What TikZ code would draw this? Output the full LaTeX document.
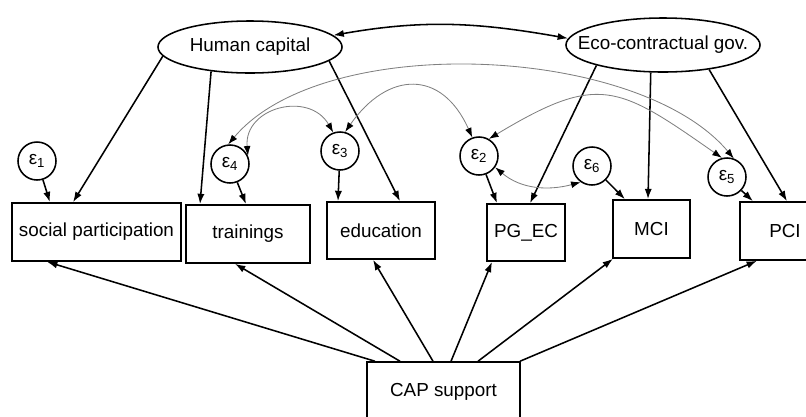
\documentclass[tikz,border=0pt]{standalone}
\usepackage{fontspec}
\setmainfont{Liberation Sans}
\usepackage{tikz}
\usetikzlibrary{arrows.meta,shapes.geometric}

\begin{document}
\begin{tikzpicture}[x=0.025cm, y=-0.025cm, font=\fontsize{13.4}{16}\selectfont,
		lat/.style={draw, ellipse, line width=1.1pt, inner sep=0pt},
		obs/.style={draw, rectangle, line width=1.1pt, inner sep=0pt, minimum height=1.45cm},
		err/.style={draw, circle, line width=1.1pt, inner sep=0pt, minimum size=0.95cm},
		reg/.style={line width=1.1pt, -{Latex[length=0.26cm, width=0.18cm]}},
		bireg/.style={line width=1.1pt, {Latex[length=0.26cm, width=0.18cm]}-{Latex[length=0.26cm, width=0.18cm]}},
		cov/.style={gray, line width=0.6pt, {Latex[length=0.24cm, width=0.17cm, black]}-{Latex[length=0.24cm, width=0.17cm, black]}}]
		\useasboundingbox (0, 0) rectangle (806, 416);

		\node[lat, minimum width=4.6cm, minimum height=1.3cm, label=center:{Human capital}] (hc) at (250, 47) {};
		\node[lat, minimum width=4.85cm, minimum height=1.35cm, label=center:{Eco-contractual gov.}] (eco) at (663, 45) {};

		\node[obs, minimum width=4.225cm] (sp) at (96.5, 232) {social participation};
		\node[obs, minimum width=3.1cm] (tr) at (248, 234) {trainings};
		\node[obs, minimum width=2.7cm, minimum height=1.425cm] (ed) at (381, 230.5) {education};
		\node[obs, minimum width=1.95cm, minimum height=1.425cm] (pg) at (526, 232.5) {PG\_EC};
		\node[obs, minimum width=1.925cm] (mci) at (651.5, 229) {MCI};
		\node[obs, minimum width=2.25cm] (pci) at (785, 231) {PCI};
		\node[obs, minimum width=3.825cm, minimum height=1.5cm] (cap) at (443.5, 392) {CAP support};

		\node[err] (e1) at (37, 161) {ε\textsubscript{1}};
		\node[err] (e4) at (230, 164) {ε\textsubscript{4}};
		\node[err] (e3) at (340, 151) {ε\textsubscript{3}};
		\node[err] (e2) at (479, 156) {ε\textsubscript{2}};
		\node[err] (e6) at (592, 166) {ε\textsubscript{6}};
		\node[err] (e5) at (727, 177) {ε\textsubscript{5}};

		\draw[bireg] (hc.8) to[out=10, in=170] (eco.176);

		\draw[reg] (hc.186) -- ([xshift=-0.5875cm]sp.north);
		\draw[reg] (hc.212) -- ([xshift=-1.2cm]tr.north);
		\draw[reg] (hc.350) -- ([xshift=0.475cm]ed.north);
		\draw[reg] (eco.197) -- ([xshift=0.1cm]pg.north);
		\draw[reg] (eco.246) -- ([xshift=-0.0875cm]mci.north);
		\draw[reg] (eco.332) -- ([xshift=0.05cm]pci.north);

		\foreach \e/\o/\s in {e1/sp/-1.1625, e4/tr/-0.05, e3/ed/-1.075, e2/pg/-0.725, e6/mci/-0.6625, e5/pci/-0.8}
			\draw[reg] (\e) -- ([xshift=\s cm]\o.north);

		\foreach \a/\o/\s in {-1.7125/sp/-1.2375, -1.0875/tr/-0.325, -0.2625/ed/-0.2, 0.1875/pg/-0.85, 0.8625/mci/-0.9625, 1.9125/pci/-0.7}
			\draw[reg] ([xshift=\a cm]cap.north) -- ([xshift=\s cm]\o.south);

		\draw[cov] (e4.25) to[out=95, in=120, looseness=1.4] (e3.110);
		\draw[cov] (e4.95) to[out=50, in=130, looseness=0.75] (e5.70);
		\draw[cov] (e3.75) to[out=55, in=114, looseness=1.5] (e2.110);
		\draw[cov] (e2.60) to[out=31, in=145, looseness=1.4] (e5.105);
		\draw[cov] (e2.-35) to[out=-40, in=195] (e6.235);
	\end{tikzpicture}
\end{document}
